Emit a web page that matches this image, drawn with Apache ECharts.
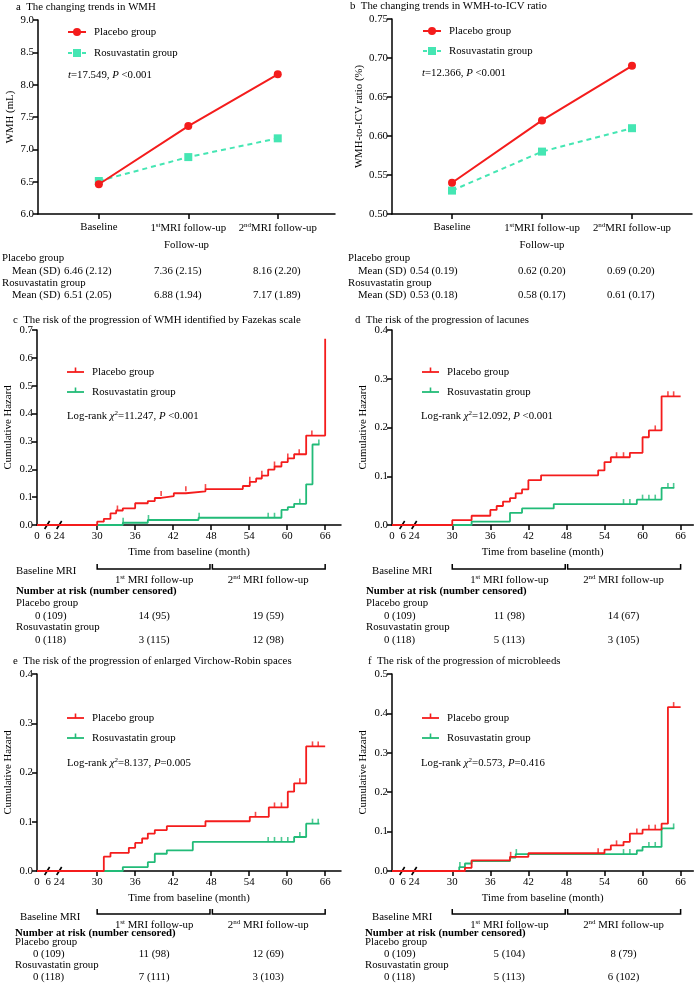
<!DOCTYPE html>
<html>
<head>
<meta charset="utf-8">
<script src="https://cdn.jsdelivr.net/npm/echarts@6.0.0/dist/echarts.min.js"></script>
<style>
html, body { margin: 0; padding: 0; background: #fff; }
#chart { width: 695px; height: 992px; }
</style>
</head>
<body>
<div id="chart"></div>
<script>
// ---------- data ----------
const visitLabels = ['Baseline', '1{sup|st}MRI follow-up', '2{sup|nd}MRI follow-up'];
const wmhPlacebo = [6.46, 7.36, 8.16];
const wmhPlaceboSD = [2.12, 2.15, 2.20];
const wmhRosu = [6.51, 6.88, 7.17];
const wmhRosuSD = [2.05, 1.94, 1.89];
const ratioPlacebo = [0.54, 0.62, 0.69];
const ratioPlaceboSD = [0.19, 0.20, 0.20];
const ratioRosu = [0.53, 0.58, 0.61];
const ratioRosuSD = [0.18, 0.17, 0.17];

const kmTicks = [0, 6, 24, 30, 36, 42, 48, 54, 60, 66];

// c  WMH (Fazekas)
const cPlaceboT = [0, 30, 31.05, 32.1, 33.0, 34.05, 36.0, 38.0, 39.1, 40.1, 42.1, 44.0, 47.1, 53.0, 54.1, 55.1, 56.0, 57.0, 58.0, 59.1, 60.1, 61.1, 63.0, 66.0];
const cPlaceboH = [0, 0.012, 0.022, 0.042, 0.052, 0.060, 0.078, 0.086, 0.097, 0.104, 0.114, 0.121, 0.129, 0.140, 0.155, 0.167, 0.177, 0.199, 0.210, 0.226, 0.239, 0.254, 0.321, 0.669];
const cPlaceboCens = [33.2, 40.1, 44.0, 47.1, 54.1, 56.0, 58.0, 60.1, 61.9, 63.9];
const cRosuT = [0, 34.05, 38.0, 46.0, 59.1, 60.1, 61.1, 63.0, 64.0];
const cRosuH = [0, 0.008, 0.018, 0.026, 0.054, 0.064, 0.076, 0.146, 0.289];
const cRosuCens = [34.1, 38.1, 46.1, 57.0, 58.0, 62.0, 65.0];
const cRiskPlacebo = [0, 14, 19], cCensPlacebo = [109, 95, 59];
const cRiskRosu = [0, 3, 12], cCensRosu = [118, 115, 98];

// d  lacunes
const dPlaceboT = [0, 30, 33.05, 36.0, 37.0, 38.0, 39.1, 40.0, 41.0, 42.0, 44.0, 53.0, 54.0, 55.0, 58.0, 60.0, 61.0, 63.0];
const dPlaceboH = [0, 0.010, 0.019, 0.031, 0.039, 0.048, 0.055, 0.065, 0.073, 0.092, 0.102, 0.112, 0.129, 0.139, 0.148, 0.180, 0.194, 0.264];
const dPlaceboCens = [55.9, 57.0, 62.0, 64.0, 64.9];
const dRosuT = [0, 33.05, 39.1, 41.0, 46.0, 59.1, 63.0];
const dRosuH = [0, 0.007, 0.025, 0.034, 0.043, 0.052, 0.076];
const dRosuCens = [57.0, 58.0, 60.0, 61.0, 62.0, 64.0, 64.9];
const dRiskPlacebo = [0, 11, 14], dCensPlacebo = [109, 98, 67];
const dRiskRosu = [0, 5, 3], dCensRosu = [118, 113, 105];

// e  enlarged Virchow-Robin spaces
const ePlaceboT = [0, 31.05, 32.1, 35.0, 36.0, 37.1, 38.0, 39.1, 41.0, 47.1, 54.1, 57.1, 60.1, 61.1, 63.0];
const ePlaceboH = [0, 0.029, 0.037, 0.047, 0.057, 0.066, 0.076, 0.083, 0.091, 0.101, 0.110, 0.129, 0.161, 0.178, 0.253];
const ePlaceboCens = [55.0, 58.0, 59.1, 62.0, 64.0, 64.9];
const eRosuT = [0, 34.05, 38.0, 39.1, 41.0, 45.1, 61.1, 63.0];
const eRosuH = [0, 0.008, 0.018, 0.035, 0.042, 0.059, 0.069, 0.096];
const eRosuCens = [57.0, 58.0, 59.1, 60.1, 62.0, 64.0, 64.9];
const eRiskPlacebo = [0, 11, 12], eCensPlacebo = [109, 98, 69];
const eRiskRosu = [0, 7, 3], eCensRosu = [118, 111, 103];

// f  microbleeds
const fPlaceboT = [0, 32.0, 33.05, 39.1, 42.0, 54.0, 55.0, 57.0, 58.0, 60.0, 63.0, 64.0];
const fPlaceboH = [0, 0.008, 0.027, 0.036, 0.045, 0.054, 0.065, 0.074, 0.095, 0.105, 0.120, 0.416];
const fPlaceboCens = [39.2, 53.0, 55.9, 59.1, 61.0, 62.0, 64.9];
const fRosuT = [0, 31.1, 32.0, 33.05, 39.1, 40.0, 59.1, 60.0, 63.0];
const fRosuH = [0, 0.010, 0.019, 0.025, 0.034, 0.043, 0.052, 0.061, 0.108];
const fRosuCens = [31.2, 40.1, 57.0, 58.0, 61.0, 62.0, 64.9];
const fRiskPlacebo = [0, 5, 8], fCensPlacebo = [109, 104, 79];
const fRiskRosu = [0, 5, 6], fCensRosu = [118, 113, 102];

// ---------- styles ----------
const FF = '"Liberation Serif", "Times New Roman", serif';
const FS = 10.8;
const RED = '#f41c1c';
const LIGHTGREEN = '#45e6b3';
const GREEN = '#22bb78';
const BLACK = '#000';

const supRich = {
  sup: { fontSize: 7, fontFamily: FF, color: BLACK, verticalAlign: 'top', padding: [0, 0, 5, 0] },
  i: { fontSize: FS, fontFamily: FF, color: BLACK, fontStyle: 'italic' }
};

// broken time axis: 0 and 6 squeezed in front of 24
function axisPos(t) {
  if (t >= 24) return t;
  if (t <= 6) return 20.5 + t * (1.75 / 6);
  return 22.25 + (t - 6) * (1.75 / 18);
}
const KM_MIN = 20.5;

function kmLine(t, h, end) {
  const d = t.map((v, i) => [axisPos(v), h[i]]);
  if (end > t[t.length - 1]) d.push([axisPos(end), h[h.length - 1]]);
  return d;
}
function stepAt(t, h, x) {
  let y = h[0];
  for (let i = 0; i < t.length; i++) if (t[i] <= x) y = h[i];
  return y;
}

const kmPanels = [
  { title: 'c  The risk of the progression of WMH identified by Fazekas scale', tx: 13, ty: 320,
    grid: { left: 37, top: 330, width: 304, height: 195 }, xMax: 68.5, yMax: 0.7,
    leg: [67, 372, 392], stat: [67, 416], chi: '11.247', p: ' <0.001',
    pl: [cPlaceboT, cPlaceboH, 66, cPlaceboCens], ro: [cRosuT, cRosuH, 65.1, cRosuCens],
    risk: [cRiskPlacebo, cCensPlacebo, cRiskRosu, cCensRosu],
    textX: 16, baseX: 16, firstX: 35, off: [44, 46, 55, 66, 78, 91, 102, 115] },
  { title: 'd  The risk of the progression of lacunes', tx: 355, ty: 320,
    grid: { left: 392, top: 330, width: 301.3, height: 195 }, xMax: 68, yMax: 0.4,
    leg: [422, 372, 392], stat: [421, 416], chi: '12.092', p: ' <0.001',
    pl: [dPlaceboT, dPlaceboH, 66, dPlaceboCens], ro: [dRosuT, dRosuH, 65.0, dRosuCens],
    risk: [dRiskPlacebo, dCensPlacebo, dRiskRosu, dCensRosu],
    textX: 366, baseX: 372, firstX: 384, off: [44, 46, 55, 66, 78, 91, 102, 115] },
  { title: 'e  The risk of the progression of enlarged Virchow-Robin spaces', tx: 13, ty: 661,
    grid: { left: 37, top: 674, width: 304, height: 197 }, xMax: 68.5, yMax: 0.4,
    leg: [67, 718, 738], stat: [67, 763], chi: '8.137', p: '=0.005',
    pl: [ePlaceboT, ePlaceboH, 66, ePlaceboCens], ro: [eRosuT, eRosuH, 65.1, eRosuCens],
    risk: [eRiskPlacebo, eCensPlacebo, eRiskRosu, eCensRosu],
    textX: 15, baseX: 20, firstX: 33, off: [43, 46, 54, 62, 71, 83, 94, 106] },
  { title: 'f  The risk of the progression of microbleeds', tx: 368, ty: 661,
    grid: { left: 392, top: 674, width: 301.3, height: 197 }, xMax: 68, yMax: 0.5,
    leg: [422, 718, 738], stat: [421, 763], chi: '0.573', p: '=0.416',
    pl: [fPlaceboT, fPlaceboH, 66, fPlaceboCens], ro: [fRosuT, fRosuH, 65.0, fRosuCens],
    risk: [fRiskPlacebo, fCensPlacebo, fRiskRosu, fCensRosu],
    textX: 365, baseX: 372, firstX: 384, off: [43, 46, 54, 62, 71, 83, 94, 106] }
];

// ---------- helpers for graphic ----------
const graphic = [];
function txt(x, y, text, extra) {
  graphic.push({ type: 'text', x, y, silent: true,
    style: Object.assign({ text, fontSize: FS, fontFamily: FF, fill: BLACK,
      verticalAlign: 'middle', align: 'left', rich: supRich }, extra || {}) });
}
function line(x1, y1, x2, y2, color, w, dash) {
  graphic.push({ type: 'line', silent: true, shape: { x1, y1, x2, y2 },
    style: { stroke: color, lineWidth: w || 1.5, lineDash: dash || null } });
}
function poly(points, w) {
  graphic.push({ type: 'polyline', silent: true, shape: { points },
    style: { stroke: BLACK, lineWidth: w || 1.5, fill: null } });
}

// ---------- panels a / b ----------
const grids = [
  { left: 38, top: 20, width: 297, height: 194 },
  { left: 392, top: 19, width: 300, height: 195 }
];
const xAxes = [], yAxes = [], series = [];

function baseAxisStyle() {
  return {
    axisLine: { show: true, onZero: false, lineStyle: { color: BLACK, width: 1.5 } },
    axisTick: { show: true, length: 5, lineStyle: { color: BLACK, width: 1.5 } },
    axisLabel: { color: BLACK, fontFamily: FF, fontSize: FS },
    splitLine: { show: false },
    nameTextStyle: { color: BLACK, fontFamily: FF, fontSize: FS }
  };
}

function trendAxes(gi, xmin, xmax, ymin, ymax, yint, ydec, yname, ygap) {
  const xa = baseAxisStyle();
  Object.assign(xa, { gridIndex: gi, type: 'value', min: xmin, max: xmax,
    name: 'Follow-up', nameLocation: 'middle', nameGap: 26 });
  xa.axisTick.customValues = [0, 1, 2];
  Object.assign(xa.axisLabel, { customValues: [0, 1, 2], margin: 8, rich: supRich,
    formatter: v => visitLabels[Math.round(v)] });
  xAxes.push(xa);
  const ya = baseAxisStyle();
  Object.assign(ya, { gridIndex: gi, type: 'value', min: ymin, max: ymax, interval: yint,
    name: yname, nameLocation: 'middle', nameGap: ygap, nameRotate: 90 });
  Object.assign(ya.axisLabel, { margin: 4, formatter: v => v.toFixed(ydec) });
  yAxes.push(ya);
}
trendAxes(0, -0.68, 2.64, 6, 9, 0.5, 1, 'WMH (mL)', 22);
trendAxes(1, -0.667, 2.667, 0.5, 0.75, 0.05, 2, 'WMH-to-ICV ratio (%)', 27);

function trendSeries(gi, pl, ro) {
  series.push({ type: 'line', xAxisIndex: gi, yAxisIndex: gi, data: ro.map((v, i) => [i, v]),
    symbol: 'rect', symbolSize: 8, itemStyle: { color: LIGHTGREEN },
    lineStyle: { color: LIGHTGREEN, width: 2, type: [5, 4] }, silent: true, z: 3 });
  series.push({ type: 'line', xAxisIndex: gi, yAxisIndex: gi, data: pl.map((v, i) => [i, v]),
    symbol: 'circle', symbolSize: 8, itemStyle: { color: RED },
    lineStyle: { color: RED, width: 2 }, silent: true, z: 4 });
}
trendSeries(0, wmhPlacebo, wmhRosu);
trendSeries(1, ratioPlacebo, ratioRosu);

// titles / legends / tables a,b
txt(16, 7, 'a  The changing trends in WMH');
txt(350, 6, 'b  The changing trends in WMH-to-ICV ratio');
function trendLegend(x, y1, y2, tx, stat, sy) {
  line(x, y1, x + 18, y1, RED, 2);
  graphic.push({ type: 'circle', silent: true, shape: { cx: x + 9, cy: y1, r: 4 }, style: { fill: RED } });
  txt(x + 26, y1, 'Placebo group');
  line(x, y2, x + 18, y2, LIGHTGREEN, 2, [4, 3]);
  graphic.push({ type: 'rect', silent: true, shape: { x: x + 5, y: y2 - 4, width: 8, height: 8 }, style: { fill: LIGHTGREEN } });
  txt(x + 26, y2, 'Rosuvastatin group');
  txt(tx, sy, stat);
}
trendLegend(68, 32, 53, 68, '{i|t}=17.549, {i|P} <0.001', 75);
trendLegend(423, 31, 51, 422, '{i|t}=12.366, {i|P} <0.001', 73);

function meanTable(x0, xs, pl, plsd, ro, rosd, dec) {
  txt(x0, 258, 'Placebo group');
  txt(x0 + 10, 271, 'Mean (SD)');
  txt(x0, 283, 'Rosuvastatin group');
  txt(x0 + 10, 295, 'Mean (SD)');
  pl.forEach((v, i) => txt(xs[i], 271, v.toFixed(dec) + ' (' + plsd[i].toFixed(2) + ')'));
  ro.forEach((v, i) => txt(xs[i], 295, v.toFixed(dec) + ' (' + rosd[i].toFixed(2) + ')'));
}
meanTable(2, [64, 154, 253], wmhPlacebo, wmhPlaceboSD, wmhRosu, wmhRosuSD, 2);
meanTable(348, [410, 518, 607], ratioPlacebo, ratioPlaceboSD, ratioRosu, ratioRosuSD, 2);

// ---------- KM panels ----------
kmPanels.forEach((p, k) => {
  const gi = k + 2;
  grids.push(p.grid);
  const g = p.grid;
  const px = t => g.left + (axisPos(t) - KM_MIN) * g.width / (p.xMax - KM_MIN);
  const axisY = g.top + g.height;

  const xa = baseAxisStyle();
  Object.assign(xa, { gridIndex: gi, type: 'value', min: KM_MIN, max: p.xMax,
    name: 'Time from baseline (month)', nameLocation: 'middle', nameGap: 22 });
  xa.axisTick.customValues = kmTicks.filter(v => v >= 30);
  Object.assign(xa.axisLabel, { customValues: kmTicks.map(axisPos), margin: 6,
    formatter: v => String(kmTicks.find(k2 => Math.abs(axisPos(k2) - v) < 0.01)) });
  xAxes.push(xa);
  const ya = baseAxisStyle();
  Object.assign(ya, { gridIndex: gi, type: 'value', min: 0, max: p.yMax, interval: 0.1,
    name: 'Cumulative Hazard', nameLocation: 'middle', nameGap: 23, nameRotate: 90 });
  Object.assign(ya.axisLabel, { margin: 4, formatter: v => v.toFixed(1) });
  yAxes.push(ya);

  [[p.ro, GREEN, 3], [p.pl, RED, 4]].forEach(([s, col, z]) => {
    const [t, h, end, cens] = s;
    series.push({ type: 'line', step: 'end', xAxisIndex: gi, yAxisIndex: gi,
      data: kmLine(t, h, end), symbol: 'none', silent: true, z,
      lineStyle: { color: col, width: 1.8 } });
    series.push({ type: 'scatter', xAxisIndex: gi, yAxisIndex: gi, silent: true, z,
      data: cens.map(c => [axisPos(c), stepAt(t, h, c)]),
      symbol: 'rect', symbolSize: [1.6, 5], symbolOffset: [0, -2.5],
      itemStyle: { color: col } });
  });

  // axis break marks
  [22.1, 24].forEach(v => {
    const x = g.left + (v - KM_MIN) * g.width / (p.xMax - KM_MIN);
    line(x - 2.5, axisY + 4, x + 2.5, axisY - 4, BLACK, 1.6);
  });

  // title, legend, statistic
  txt(p.tx, p.ty, p.title);
  const [lx, ly1, ly2] = p.leg;
  line(lx, ly1, lx + 17, ly1, RED, 1.8);
  line(lx + 8.5, ly1, lx + 8.5, ly1 - 4.5, RED, 1.6);
  txt(lx + 25, ly1, 'Placebo group');
  line(lx, ly2, lx + 17, ly2, GREEN, 1.8);
  line(lx + 8.5, ly2, lx + 8.5, ly2 - 4.5, GREEN, 1.6);
  txt(lx + 25, ly2, 'Rosuvastatin group');
  txt(p.stat[0], p.stat[1], 'Log-rank {i|χ}{sup|2}=' + p.chi + ', {i|P}' + p.p);

  // follow-up bracket
  const o = p.off;
  const by = axisY + o[0];
  poly([[px(30), by - 5], [px(30), by], [px(48) - 1.2, by], [px(48) - 1.2, by - 5]]);
  poly([[px(48) + 1.2, by - 5], [px(48) + 1.2, by], [px(66), by], [px(66), by - 5]]);
  txt(p.baseX, axisY + o[1], 'Baseline MRI');
  txt(px(39), axisY + o[2], '1{sup|st} MRI follow-up', { align: 'center' });
  txt(px(57), axisY + o[2], '2{sup|nd} MRI follow-up', { align: 'center' });

  // number at risk
  const [rp, cp, rr, cr] = p.risk;
  txt(p.textX, axisY + o[3], 'Number at risk (number censored)', { fontWeight: 'bold' });
  txt(p.textX, axisY + o[4], 'Placebo group');
  txt(p.textX, axisY + o[6], 'Rosuvastatin group');
  [[rp, cp, o[5]], [rr, cr, o[7]]].forEach(([r, c, yo]) => {
    txt(p.firstX, axisY + yo, r[0] + ' (' + c[0] + ')');
    txt(px(39), axisY + yo, r[1] + ' (' + c[1] + ')', { align: 'center' });
    txt(px(57), axisY + yo, r[2] + ' (' + c[2] + ')', { align: 'center' });
  });
});

const chart = echarts.init(document.getElementById('chart'), null, { renderer: 'canvas' });
chart.setOption({
  backgroundColor: '#fff',
  animation: false,
  grid: grids,
  xAxis: xAxes,
  yAxis: yAxes,
  series,
  graphic
});
</script>
</body>
</html>
